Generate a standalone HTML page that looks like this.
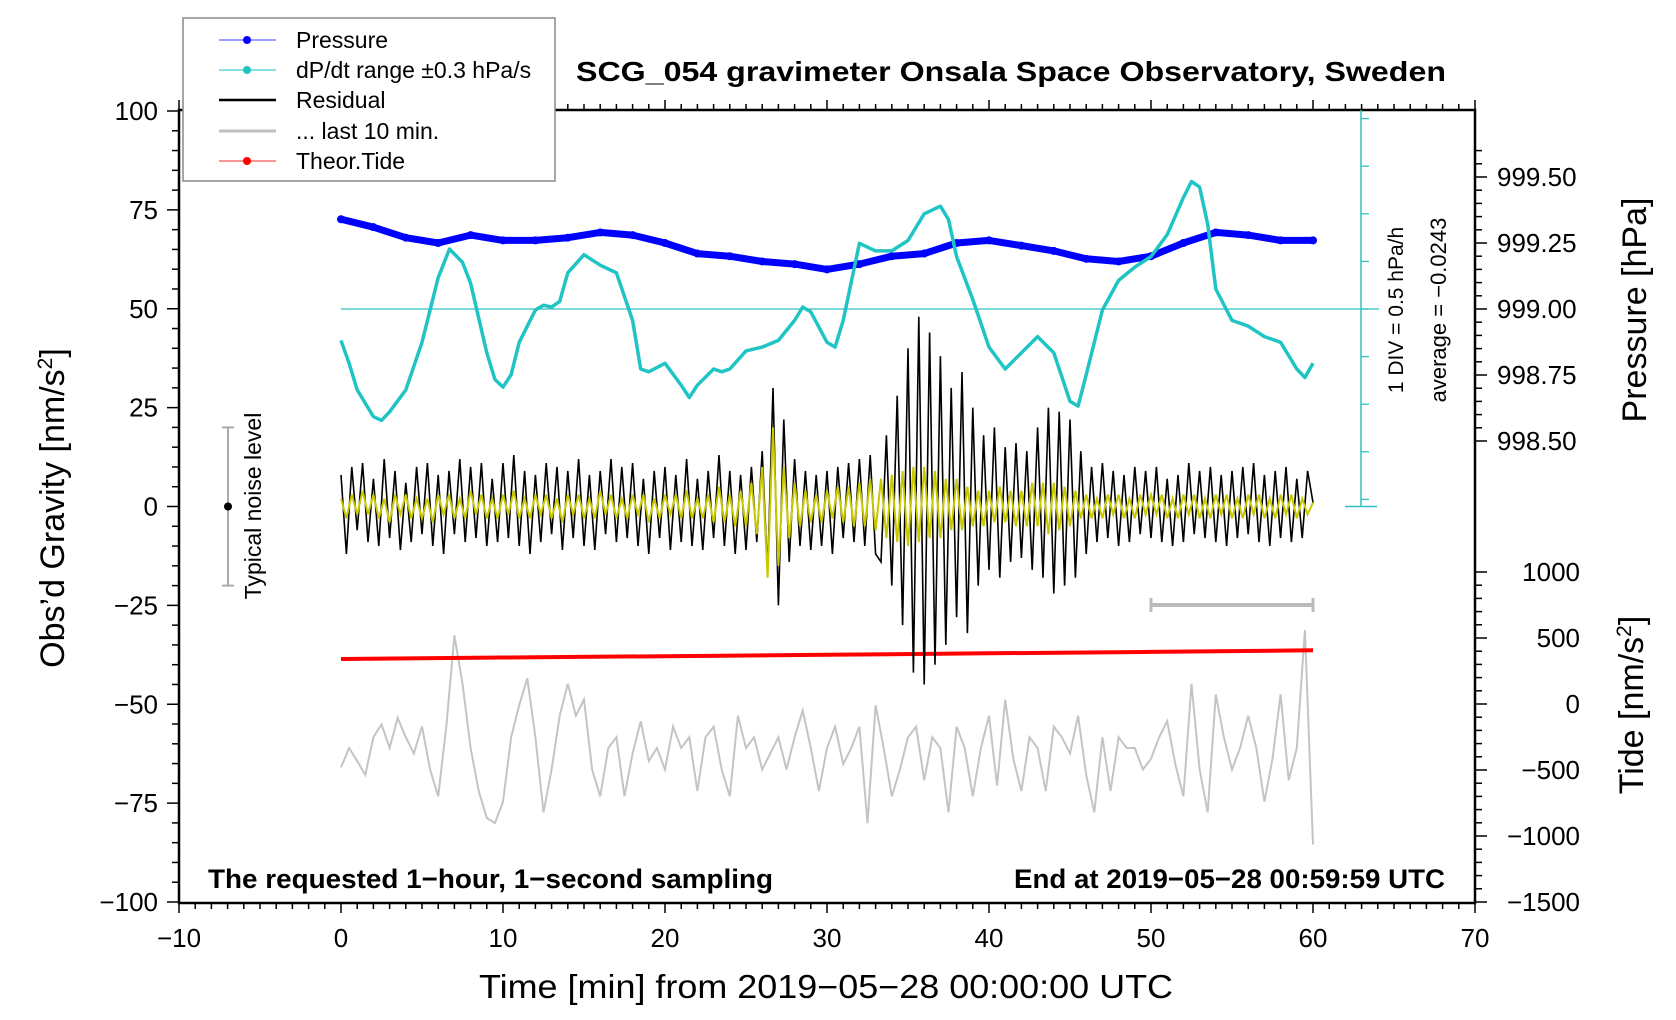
<!DOCTYPE html>
<html><head><meta charset="utf-8"><style>
html,body{margin:0;padding:0;background:#fff;}
svg{display:block;font-family:"Liberation Sans",Arial,sans-serif;}
</style></head><body>
<svg id="chart" width="1676" height="1020" viewBox="0 0 1676 1020" xmlns="http://www.w3.org/2000/svg">
<g id="marks"></g>
<g id="axes"></g>
</svg>
<script>
const timeTicks=[-10,0,10,20,30,40,50,60,70];
const gravTicks=[100,75,50,25,0,-25,-50,-75,-100];
const pressTicks=[999.5,999.25,999.0,998.75,998.5];
const pressLabels=["999.50","999.25","999.00","998.75","998.50"];
const tideTicks=[1000,500,0,-500,-1000,-1500];
// pressure every 2 min (hPa)
const pressure=[999.34,999.31,999.27,999.25,999.28,999.26,999.26,999.27,999.29,999.28,999.25,999.21,999.20,999.18,999.17,999.15,999.17,999.20,999.21,999.25,999.26,999.24,999.22,999.19,999.18,999.20,999.25,999.29,999.28,999.26,999.26];
// dP/dt (hPa/h) sample times and values
const dpTimes=[0,0.5,1,2,2.5,3,4,5,6,6.7,7.5,8,9,9.5,10,10.5,11,12,12.5,13,13.5,14,15,16,17,18,18.5,19,20,21,21.5,22,23,23.5,24,25,26,27,28,28.5,29,30,30.5,31,32,33,34,35,36,37,37.5,38,39,40,41,42,43,44,45,45.5,46,47,48,49,50,51,52,52.5,53,53.5,54,55,56,57,58,59,59.5,60];
const dpValues=[-0.33,-0.57,-0.85,-1.13,-1.17,-1.08,-0.85,-0.35,0.33,0.63,0.49,0.27,-0.46,-0.74,-0.82,-0.69,-0.35,-0.01,0.04,0.02,0.08,0.38,0.57,0.46,0.38,-0.12,-0.63,-0.66,-0.57,-0.80,-0.93,-0.80,-0.63,-0.66,-0.63,-0.44,-0.40,-0.33,-0.12,0.02,-0.03,-0.35,-0.40,-0.12,0.69,0.61,0.61,0.72,1.00,1.08,0.94,0.55,0.10,-0.40,-0.63,-0.46,-0.29,-0.46,-0.97,-1.02,-0.69,-0.01,0.30,0.44,0.55,0.78,1.17,1.34,1.28,0.89,0.21,-0.12,-0.18,-0.29,-0.35,-0.63,-0.72,-0.57];
// residual every 1/3 min (nm/s^2)
const residual=[8,-12,10,-6,11,-9,7,-10,12,-8,9,-11,6,-9,10,
-7,11,-10,8,-12,9,-7,12,-9,10,-8,11,-10,7,-9,
11,-8,13,-10,9,-12,8,-9,11,-7,10,-11,9,-8,12,
-10,8,-11,9,-7,12,-9,10,-8,11,-10,7,-12,9,-8,
10,-11,8,-9,12,-10,7,-11,9,-8,13,-10,9,-12,8,
-11,10,-9,14,-17,30,-25,22,-14,12,-10,9,-11,8,-10,
9,-12,10,-8,11,-9,12,-10,13,-12,-14,18,-20,28,-30,
40,-42,48,-45,44,-40,38,-35,30,-28,34,-32,25,-20,18,
-16,20,-18,15,-14,16,-13,14,-16,20,-18,25,-22,24,-20,
22,-18,14,-12,10,-9,11,-8,9,-10,8,-9,10,-7,9,
-8,10,-9,7,-10,8,-9,11,-7,9,-8,10,-9,8,-10,
9,-8,10,-7,11,-9,8,-10,9,-8,10,-9,7,-8,9,1];
const filtered=[2,-3,3,-2,4,-2,3,-3,2,-4,3,-2,3,-3,2,
-3,2,-4,3,-2,3,-3,2,-3,4,-2,3,-3,2,-3,
3,-2,4,-3,2,-3,3,-2,3,-3,2,-4,3,-2,3,
-3,2,-3,4,-2,3,-3,2,-3,3,-2,3,-4,2,-3,
3,-2,3,-3,4,-3,2,-3,3,-4,5,-4,3,-5,4,
-5,6,-7,10,-18,20,-15,10,-8,6,-5,4,-4,3,-4,
4,-3,5,-4,5,-5,6,-5,7,-6,7,-8,8,-9,9,
-10,10,-9,10,-8,9,-8,7,-6,7,-6,5,-5,4,-5,
4,-4,5,-4,4,-5,4,-5,6,-5,6,-7,6,-6,5,
-5,4,-3,3,-3,2,-3,3,-2,3,-3,2,-3,3,-2,
3,-2,3,-3,2,-3,3,-2,3,-3,2,-3,3,-2,3,
-3,2,-3,3,-2,3,-3,2,-3,3,-2,3,-3,2,-2,1];
// last 10 min (tide axis units) every 0.5 min
const last10=[-480,-333,-431,-537,-252,-154,-333,-106,-252,-374,-171,-496,-699,-171,520,154,-333,-659,-862,-902,-740,-252,-8,195,-252,-821,-496,-89,154,-89,33,-496,-699,-333,-252,-699,-374,-130,-431,-333,-496,-171,-333,-252,-659,-252,-171,-496,-699,-89,-333,-252,-496,-374,-252,-496,-252,-49,-333,-659,-333,-171,-455,-333,-171,-902,-8,-333,-699,-496,-252,-171,-577,-252,-333,-821,-171,-333,-699,-333,-89,-618,33,-415,-659,-252,-333,-659,-171,-252,-374,-89,-537,-821,-252,-659,-252,-333,-333,-496,-415,-252,-130,-455,-699,154,-496,-821,73,-252,-496,-333,-89,-333,-740,-415,73,-577,-333,561,-1065];
// theoretical tide every 10 min
const tide=[341,352,362,373,384,395,407];

const X=t=>341+t*16.2;
const Yg=g=>506.5-g*3.955;
const Yp=p=>309-(p-999)*264;
const Yt=v=>704-v*0.132;
const Yd=v=>309-v*95.2;
const NS="http://www.w3.org/2000/svg";
const marks=document.getElementById('marks');
const axes=document.getElementById('axes');
function mk(tag,attrs,parent){const e=document.createElementNS(NS,tag);for(const k in attrs)e.setAttribute(k,attrs[k]);(parent||marks).appendChild(e);return e;}
function pts(ts,vs,fy){return vs.map((v,i)=>X(ts(i)).toFixed(1)+','+fy(v).toFixed(1)).join(' ');}

let e=mk('line',{x1:X(0),x2:1379,y1:Yd(0),y2:Yd(0),stroke:'#30c0c0','stroke-width':1.3});


e=mk('polyline',{points:pts(i=>i*0.5,last10,Yt),fill:'none',stroke:'#c4c4c4','stroke-width':2});


e=mk('polyline',{points:pts(i=>i*10,tide,Yt),fill:'none',stroke:'#ff0000','stroke-width':4});


e=mk('polyline',{points:pts(i=>i/3,residual,Yg),fill:'none',stroke:'#000','stroke-width':1.6,'stroke-linejoin':'miter'});


e=mk('polyline',{points:pts(i=>i/3,filtered,Yg),fill:'none',stroke:'#c8c800','stroke-width':2});


e=mk('polyline',{points:pts(i=>i*2,pressure,Yp),fill:'none',stroke:'#0000ff','stroke-width':7,'stroke-linejoin':'round'});


pressure.forEach((p,i)=>{const c=mk('circle',{cx:X(i*2),cy:Yp(p),r:4,fill:'#0000ff'});

});
e=mk('polyline',{points:dpValues.map((v,i)=>X(dpTimes[i]).toFixed(1)+','+Yd(v).toFixed(1)).join(' '),fill:'none',stroke:'#20c4c4','stroke-width':3.5,'stroke-linejoin':'round'});



e=mk('rect',{x:179,y:110,width:1296,height:793,fill:'none',stroke:'#000','stroke-width':2.5},axes);


function ln(x1,y1,x2,y2,w,c){return mk('line',{x1,y1,x2,y2,stroke:c||'#000','stroke-width':w||1.5},axes);}
function tx(x,y,s,opt){const t=mk('text',Object.assign({x,y,'font-size':26,fill:'#000'},opt||{}),axes);t.textContent=s;return t;}
for(let t=-10;t<=70;t++){const big=t%10===0;ln(X(t),903,X(t),903+(big?10:6));ln(X(t),110,X(t),110-(big?10:6));}
timeTicks.forEach(t=>{const l=tx(X(t),947,String(t).replace('-','\u2212'),{'text-anchor':'middle'});});
for(let g=-100;g<=100;g+=5){const big=g%25===0;ln(179,Yg(g),179-(big?12:7),Yg(g));}
gravTicks.forEach(g=>{const l=tx(158,Yg(g)+9,String(g).replace('-','\u2212'),{'text-anchor':'end'});});
for(let k=0;k<=22;k++){const p=998.5+k*0.05;const big=k%5===0;ln(1475,Yp(p),1475+(big?12:7),Yp(p));}
pressTicks.forEach((p,i)=>{const l=tx(1497,Yp(p)+9,pressLabels[i]);});
for(let v=-1500;v<=1000;v+=100){const big=v%500===0;ln(1475,Yt(v),1475+(big?12:7),Yt(v));}
tideTicks.forEach(v=>{const l=tx(1580,Yt(v)+9,String(v).replace('-','\u2212'),{'text-anchor':'end'});});
ln(1361,110,1361,506.5,1.5,'#30c0c0');ln(1345,506.5,1377,506.5,1.5,'#30c0c0');
for(let k=-4;k<=4;k++){const y=Yd(k*0.5);if(y>=110&&y<=506)ln(1361,y,1369,y,1.3,'#30c0c0');}
ln(228,Yg(20),228,Yg(-20),2,'#aaa');ln(222,Yg(20),234,Yg(20),2,'#aaa');ln(222,Yg(-20),234,Yg(-20),2,'#aaa');
e=mk('circle',{cx:228,cy:Yg(0),r:4,fill:'#000'},axes);


ln(X(50),605,X(60),605,4,'#bbb');ln(X(50),598,X(50),612,3,'#bbb');ln(X(60),598,X(60),612,3,'#bbb');
</script>
<div style="position:absolute;left:0;top:0;width:1676px;height:1020px;pointer-events:none">
<svg width="1676" height="1020" style="position:absolute;left:0;top:0" font-family="Liberation Sans, Arial, sans-serif">
<text x="1011" y="81" text-anchor="middle" font-size="28" font-weight="bold" textLength="870" lengthAdjust="spacingAndGlyphs">SCG_054 gravimeter Onsala Space Observatory, Sweden</text>
<text x="826" y="998" text-anchor="middle" font-size="33" textLength="694" lengthAdjust="spacingAndGlyphs">Time [min] from 2019−05−28 00:00:00 UTC</text>
<text transform="translate(64,508) rotate(-90)" text-anchor="middle" font-size="34">Obs’d Gravity [nm/s<tspan font-size="21" dy="-12">2</tspan><tspan dy="12">]</tspan></text>
<text transform="translate(1646,310) rotate(-90)" text-anchor="middle" font-size="34">Pressure [hPa]</text>
<text transform="translate(1643,705) rotate(-90)" text-anchor="middle" font-size="34">Tide [nm/s<tspan font-size="21" dy="-12">2</tspan><tspan dy="12">]</tspan></text>
<text transform="translate(261,506) rotate(-90)" text-anchor="middle" font-size="23">Typical noise level</text>
<text transform="translate(1403,310) rotate(-90)" text-anchor="middle" font-size="21">1 DIV = 0.5 hPa/h</text>
<text transform="translate(1446,310) rotate(-90)" text-anchor="middle" font-size="22">average = −0.0243</text>
<text x="208" y="888" font-size="27" font-weight="bold" textLength="565" lengthAdjust="spacingAndGlyphs">The requested 1−hour, 1−second sampling</text>
<text x="1014" y="888" font-size="27" font-weight="bold" textLength="431" lengthAdjust="spacingAndGlyphs">End at 2019−05−28 00:59:59 UTC</text>
<g>
<rect x="183" y="18" width="372" height="163" fill="#fff" stroke="#888" stroke-width="1.5"/>
<g><line x1="219" x2="276" y1="40" y2="40" stroke="#6666ff" stroke-width="1.2"/><circle cx="247" cy="40" r="4" fill="#0000ff"/><text x="296" y="48" font-size="23">Pressure</text></g>
<g><line x1="219" x2="276" y1="70" y2="70" stroke="#40d0d0" stroke-width="1.2"/><circle cx="247" cy="70" r="4" fill="#20c4c4"/><text x="296" y="78" font-size="23">dP/dt range ±0.3 hPa/s</text></g>
<g><line x1="219" x2="276" y1="100" y2="100" stroke="#000" stroke-width="2.5"/><text x="296" y="108" font-size="23">Residual</text></g>
<g><line x1="219" x2="276" y1="131" y2="131" stroke="#c0c0c0" stroke-width="3"/><text x="296" y="139" font-size="23">... last 10 min.</text></g>
<g><line x1="219" x2="276" y1="161" y2="161" stroke="#ff5555" stroke-width="1.2"/><circle cx="247" cy="161" r="4" fill="#ff0000"/><text x="296" y="169" font-size="23">Theor.Tide</text></g>
</g>
</svg>
</div>
</body></html>
